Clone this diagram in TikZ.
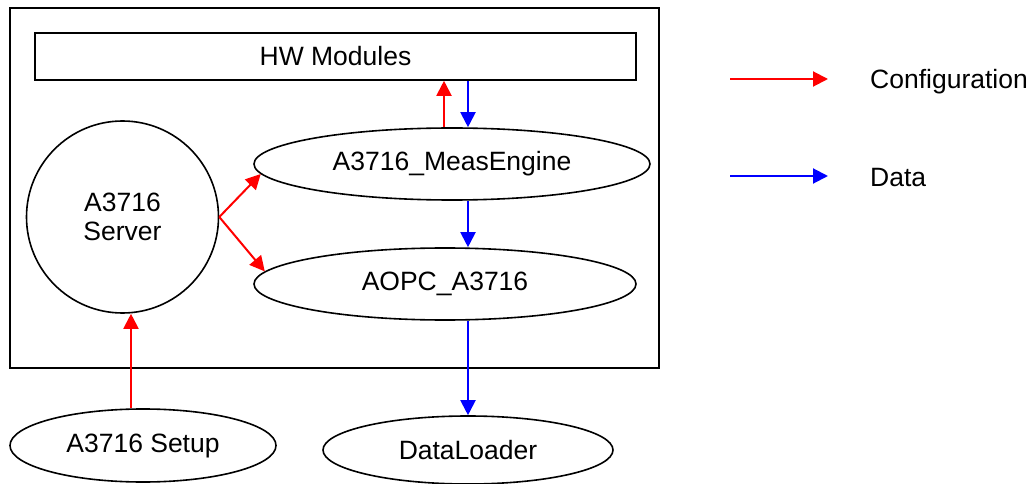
\documentclass[tikz,border=0pt]{standalone}
\usepackage{fontspec}
\setmainfont{Liberation Sans}
\usetikzlibrary{arrows.meta,shapes.geometric}
\begin{document}
\begin{tikzpicture}[x=1pt,y=-1pt,
  lbl/.style={font=\fontsize{26.5}{29}\selectfont},
  frame/.style={draw=black,line width=1.6pt},
  oval/.style={frame,ellipse,inner sep=0pt,lbl},
  cfg/.style={draw=red,line width=2pt,-{Triangle[length=15pt,width=15pt]}},
  dat/.style={draw=blue,line width=2pt,-{Triangle[length=15pt,width=15pt]}}]
\useasboundingbox (0,0) rectangle (1031,484);
% outer box
\draw[frame] (10,8) rectangle (659,368);
% nodes
\node[frame,rectangle,minimum width=601pt,minimum height=47pt,inner sep=0pt,lbl] (hw) at (335.5,56.5) {HW Modules};
\node[oval,minimum width=396pt,minimum height=72pt] (meas) at (452,164) {A3716\_MeasEngine};
\node[oval,minimum width=382pt,minimum height=72pt] (aopc) at (445,284) {AOPC\_A3716};
\node[frame,circle,minimum size=192pt,inner sep=0pt,lbl,align=center] (srv) at (122.5,217) {A3716\\Server};
\node[oval,minimum width=266pt,minimum height=73pt] (setup) at (143,445.5) {A3716 Setup};
\node[oval,minimum width=290pt,minimum height=68pt] (dl) at (468,450) {DataLoader};
% connectors
\draw[cfg] ([xshift=-8pt]meas.north) -- ([xshift=-8pt]meas.north |- hw.south);
\draw[dat] ([xshift=16pt]meas.north |- hw.south) -- ([xshift=16pt]meas.north);
\draw[dat] ([xshift=16pt]meas.south) -- ([xshift=16pt]meas.south |- aopc.north);
\draw[cfg] (srv.east) -- (meas.183);
\draw[cfg] (srv.east) -- (aopc.176);
\draw[dat] (aopc.south -| dl.north) -- (dl.north);
\draw[cfg] ([xshift=-12pt]setup.north) -- ([xshift=-12pt]setup.north |- srv.south);
% legend
\coordinate (c1) at (730,79);
\coordinate (c2) at (828,79);
\coordinate (d1) at (730,176);
\coordinate (d2) at (828,176);
\draw[cfg] (c1) -- (c2);
\draw[dat] (d1) -- (d2);
\node[lbl,anchor=west,inner sep=0pt] (lc) at (870,82) {Configuration};
\node[lbl,anchor=west,inner sep=0pt] (ld) at (870,178) {Data};
\end{tikzpicture}
\end{document}
